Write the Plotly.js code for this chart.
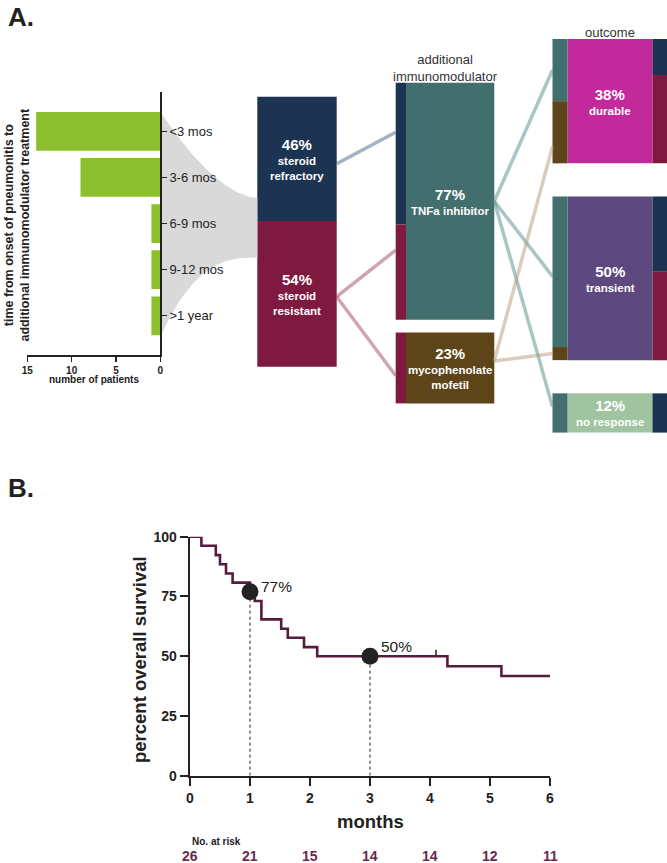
<!DOCTYPE html>
<html><head><meta charset="utf-8">
<script src="https://cdn.plot.ly/plotly-3.0.1.min.js"></script>
<style>html,body{margin:0;padding:0;background:#fff}</style>
</head><body><div id="chart" style="width:667px;height:863px"></div>
<script>
// ---------------- data ----------------
const timeCategories = ['<3 mos', '3-6 mos', '6-9 mos', '9-12 mos', '>1 year'];
const timeCounts = [14, 9, 1, 1, 1];
const countTicks = [15, 10, 5, 0];

const steroidPct = [46, 54];
const steroidNames = ['steroid<br>refractory', 'steroid<br>resistant'];

const immunoPct = [77, 23];
const immunoNames = ['TNFa inhibitor', 'mycophenolate<br>mofetil'];
const immunoFromRefractory = [46, 0];
const immunoFromResistant = [31, 23];

const outcomePct = [38, 50, 12];
const outcomeNames = ['durable', 'transient', 'no response'];
const outcomeFromTNF = [19, 46, 12];
const outcomeFromMMF = [19, 4, 0];
const outcomeFromRefractory = [11, 23, 12];
const outcomeFromResistant = [27, 27, 0];

const kmMonths = [0, 0.19, 0.43, 0.5, 0.6, 0.71, 1.0, 1.08, 1.19, 1.52, 1.63, 1.9, 2.12, 4.29, 5.19, 6];
const kmSurvival = [100, 96.2, 92.3, 88.5, 84.6, 80.8, 76.9, 73.1, 65.4, 61.5, 57.7, 53.8, 50, 45.8, 41.7, 41.7];
const censorMonths = [4.1];
const censorSurvival = [50];
const markMonths = [1, 3];
const markSurvival = [77, 50];
const markLabels = ['77%', '50%'];
const riskMonths = [0, 1, 2, 3, 4, 5, 6];
const riskCounts = [26, 21, 15, 14, 14, 12, 11];
const monthTicks = [0, 1, 2, 3, 4, 5, 6];
const survivalTicks = [0, 25, 50, 75, 100];

// ---------------- layout constants ----------------
const W = 667, H = 863;
const FONT = 'Arial, "Liberation Sans", sans-serif';
const INK = '#222';
const C = {
  navy: '#1c3352', maroon: '#7e1a40', teal: '#436e6e', brown: '#5d4519',
  magenta: '#c22a9b', purple: '#5e4880', green: '#a0c4a0', lime: '#8dc02f',
  km: '#561b3e', risk: '#6a2a4e', funnel: '#d9d9d9',
  lnRef: 'rgba(77,101,133,0.5)', lnRes: 'rgba(167,69,105,0.5)',
  lnTNF: 'rgba(83,141,139,0.5)', lnMMF: 'rgba(181,155,127,0.5)'
};
const G = {
  steroid: {x0: 257.3, x1: 336.7, top: 96.7, scale: 2.70, gap: 0},
  immuno: {x0: 395.7, x1: 494.3, top: 82.7, scale: 3.08, gap: 12.7, lw: 10.3},
  outcome: {x0: 552.5, x1: 667, top: 39, scale: 3.272, gap: 33.2, lw: 15, rw: 14.5}
};
const FUN = {x0: 160.3, x1: 257.3, topA: 111.7, topB: 198, botA: 336.7, botB: 257.5, pTop: 1.7, pBot: 2.7};
const py = v => (H - v) / H;   // pixel row -> paper fraction
const px = v => v / W;

function stack(vals, g) {
  let cum = 0;
  return vals.map((v, i) => { const y0 = g.top + cum * g.scale + i * g.gap; cum += v; return {y0: y0, y1: y0 + v * g.scale}; });
}
function sub(seg, vals, scale) {
  let y = seg.y0;
  return vals.map(v => { const s = {y0: y, y1: y + v * scale}; y += v * scale; return s; });
}
const at = (s, f) => s.y0 + (s.y1 - s.y0) * f;

const traces = [];
const annotations = [];
function note(o) { annotations.push(Object.assign({showarrow: false, xanchor: 'center', yanchor: 'middle'}, o)); }

// funnel (canvas subplot x2/y2)
const fx = [], fy = [];
for (let k = 0; k <= 40; k++) { const t = k / 40; fx.push(FUN.x0 + t * (FUN.x1 - FUN.x0)); fy.push(FUN.topB - (FUN.topB - FUN.topA) * Math.pow(1 - t, FUN.pTop)); }
for (let k = 40; k >= 0; k--) { const t = k / 40; fx.push(FUN.x0 + t * (FUN.x1 - FUN.x0)); fy.push(FUN.botB + (FUN.botA - FUN.botB) * Math.pow(1 - t, FUN.pBot)); }
traces.push({type: 'scatter', mode: 'lines', x: fx, y: fy, fill: 'toself', fillcolor: C.funnel,
  line: {width: 0, color: C.funnel}, xaxis: 'x2', yaxis: 'y2', hoverinfo: 'skip'});

function rect(x0, x1, s, color) {
  if (s.y1 - s.y0 <= 0) return;
  traces.push({type: 'bar', x: [(x0 + x1) / 2], width: [x1 - x0], base: [s.y0], y: [s.y1 - s.y0],
    marker: {color: color, line: {width: 0}}, xaxis: 'x2', yaxis: 'y2', hoverinfo: 'skip'});
}
function label(cx, s, pct, name) {
  note({xref: 'x2', yref: 'y2', x: cx, y: (s.y0 + s.y1) / 2, align: 'center',
    text: '<span style="font-size:15px">' + pct + '%</span><br>' + name,
    font: {family: FONT, size: 11.5, color: '#fff', weight: 'bold'}});
}

// column 1
const steroidSegs = stack(steroidPct, G.steroid);
const steroidColors = [C.navy, C.maroon];
steroidSegs.forEach((s, i) => { rect(G.steroid.x0, G.steroid.x1, s, steroidColors[i]); label((G.steroid.x0 + G.steroid.x1) / 2, s, steroidPct[i], steroidNames[i]); });

// column 2
const immunoSegs = stack(immunoPct, G.immuno);
const immunoColors = [C.teal, C.brown];
const immunoLeft = immunoSegs.map((s, i) => sub(s, [immunoFromRefractory[i], immunoFromResistant[i]], G.immuno.scale));
immunoSegs.forEach((s, i) => {
  rect(G.immuno.x0 + G.immuno.lw, G.immuno.x1, s, immunoColors[i]);
  rect(G.immuno.x0, G.immuno.x0 + G.immuno.lw, immunoLeft[i][0], C.navy);
  rect(G.immuno.x0, G.immuno.x0 + G.immuno.lw, immunoLeft[i][1], C.maroon);
  label((G.immuno.x0 + G.immuno.lw + G.immuno.x1) / 2, s, immunoPct[i], immunoNames[i]);
});

// column 3
const outcomeSegs = stack(outcomePct, G.outcome);
const outcomeColors = [C.magenta, C.purple, C.green];
const outcomeLeft = outcomeSegs.map((s, i) => sub(s, [outcomeFromTNF[i], outcomeFromMMF[i]], G.outcome.scale));
const outcomeRight = outcomeSegs.map((s, i) => sub(s, [outcomeFromRefractory[i], outcomeFromResistant[i]], G.outcome.scale));
const oL = G.outcome.x0 + G.outcome.lw, oR = G.outcome.x1 - G.outcome.rw;
outcomeSegs.forEach((s, i) => {
  rect(oL, oR, s, outcomeColors[i]);
  rect(G.outcome.x0, oL, outcomeLeft[i][0], C.teal);
  rect(G.outcome.x0, oL, outcomeLeft[i][1], C.brown);
  rect(oR, G.outcome.x1, outcomeRight[i][0], C.navy);
  rect(oR, G.outcome.x1, outcomeRight[i][1], C.maroon);
  label((oL + oR) / 2, s, outcomePct[i], outcomeNames[i]);
});

// links
const links = [
  [G.steroid.x1, at(steroidSegs[0], 0.54), G.immuno.x0, at(immunoLeft[0][0], 0.35), C.lnRef],
  [G.steroid.x1, at(steroidSegs[1], 0.52), G.immuno.x0, at(immunoLeft[0][1], 0.27), C.lnRes],
  [G.steroid.x1, at(steroidSegs[1], 0.52), G.immuno.x0, at(immunoLeft[1][1], 0.61), C.lnRes],
  [G.immuno.x1, at(immunoSegs[0], 0.5), G.outcome.x0, at(outcomeLeft[0][0], 0.5), C.lnTNF],
  [G.immuno.x1, at(immunoSegs[0], 0.5), G.outcome.x0, at(outcomeLeft[1][0], 0.53), C.lnTNF],
  [G.immuno.x1, at(immunoSegs[0], 0.5), G.outcome.x0, at(outcomeLeft[2][0], 0.34), C.lnTNF],
  [G.immuno.x1, at(immunoSegs[1], 0.4), G.outcome.x0, at(outcomeLeft[0][1], 0.73), C.lnMMF],
  [G.immuno.x1, at(immunoSegs[1], 0.4), G.outcome.x0, at(outcomeLeft[1][1], 0.5), C.lnMMF]
];
links.forEach(l => traces.push({type: 'scatter', mode: 'lines', x: [l[0], l[2]], y: [l[1], l[3]],
  line: {color: l[4], width: 3.5}, xaxis: 'x2', yaxis: 'y2', hoverinfo: 'skip'}));

// headers
note({xref: 'x2', yref: 'y2', x: (G.immuno.x0 + G.immuno.x1) / 2, y: 68,
  text: 'additional<br>immunomodulator', font: {family: FONT, size: 13, color: '#333'}});
note({xref: 'x2', yref: 'y2', x: (oL + oR) / 2, y: 32,
  text: 'outcome', font: {family: FONT, size: 13, color: '#333'}});

// left bar chart (subplot x4/y4, drawn above the canvas)
traces.push({type: 'bar', orientation: 'h', y: timeCategories, x: timeCounts, width: 0.84,
  marker: {color: C.lime, line: {width: 0}}, xaxis: 'x4', yaxis: 'y4', hoverinfo: 'skip'});
note({xref: 'paper', yref: 'paper', x: px(16.5), y: py(225), textangle: -90,
  text: 'time from onset of pneumonitis to<br>additional immunomodulator treatment',
  font: {family: FONT, size: 12.5, color: INK, weight: 'bold'}});
note({xref: 'paper', yref: 'paper', x: px(93.5), y: py(379),
  text: 'number of patients', font: {family: FONT, size: 10, color: INK, weight: 'bold'}});

// panel labels
note({xref: 'paper', yref: 'paper', x: px(6), y: py(17), xanchor: 'left',
  text: 'A.', font: {family: FONT, size: 26, color: INK, weight: 'bold'}});
note({xref: 'paper', yref: 'paper', x: px(6), y: py(488), xanchor: 'left',
  text: 'B.', font: {family: FONT, size: 26, color: INK, weight: 'bold'}});

// ---------------- panel B ----------------
markMonths.forEach((m, i) => traces.push({type: 'scatter', mode: 'lines', x: [m, m], y: [0, markSurvival[i]],
  line: {color: INK, width: 1, dash: 'dot'}, xaxis: 'x3', yaxis: 'y3', hoverinfo: 'skip'}));
traces.push({type: 'scatter', mode: 'lines', x: kmMonths, y: kmSurvival, line: {color: C.km, width: 2.6, shape: 'hv'},
  xaxis: 'x3', yaxis: 'y3', cliponaxis: false, hoverinfo: 'skip'});
traces.push({type: 'scatter', mode: 'markers', x: censorMonths, y: censorSurvival.map(v => v + 1.2),
  marker: {symbol: 'line-ns', size: 5, line: {width: 1.5, color: INK}}, xaxis: 'x3', yaxis: 'y3', hoverinfo: 'skip'});
traces.push({type: 'scatter', mode: 'markers', x: markMonths, y: markSurvival,
  marker: {size: 17, color: INK}, xaxis: 'x3', yaxis: 'y3', cliponaxis: false, hoverinfo: 'skip'});
const markOffsets = [[26, 5], [26, 10]];
markLabels.forEach((t, i) => note({xref: 'x3', yref: 'y3', x: markMonths[i], y: markSurvival[i],
  xshift: markOffsets[i][0], yshift: markOffsets[i][1], text: t,
  font: {family: FONT, size: 15.5, color: INK}}));

note({xref: 'paper', yref: 'paper', x: px(139), y: py(660), textangle: -90,
  text: 'percent overall survival', font: {family: FONT, size: 18.5, color: INK, weight: 'bold'}});
note({xref: 'x3', yref: 'paper', x: 3, y: py(821),
  text: 'months', font: {family: FONT, size: 18.5, color: INK, weight: 'bold'}});
note({xref: 'x3', yref: 'paper', x: 0, y: py(841.5), xanchor: 'left',
  text: 'No. at risk', font: {family: FONT, size: 10, color: INK, weight: 'bold'}});
riskCounts.forEach((n, i) => note({xref: 'x3', yref: 'paper', x: riskMonths[i], y: py(855.5),
  text: String(n), font: {family: FONT, size: 14, color: C.risk, weight: 'bold'}}));

const axB = {showgrid: false, zeroline: false, showline: true, linewidth: 2.4, linecolor: INK,
  ticks: 'outside', ticklen: 8, tickwidth: 2, tickcolor: INK,
  tickfont: {family: FONT, size: 14, color: INK, weight: 'bold'}, fixedrange: true};

const layout = {
  width: W, height: H, margin: {l: 0, r: 0, t: 0, b: 0},
  paper_bgcolor: '#fff', plot_bgcolor: 'rgba(0,0,0,0)', showlegend: false, barmode: 'overlay',
  font: {family: FONT, color: INK},
  xaxis2: {domain: [0, 1], range: [0, W], anchor: 'y2', visible: false, fixedrange: true},
  yaxis2: {domain: [0, 1], range: [H, 0], anchor: 'x2', visible: false, fixedrange: true},
  xaxis3: Object.assign({domain: [px(190), px(550)], range: [0, 6], anchor: 'y3', tickvals: monthTicks}, axB),
  yaxis3: Object.assign({domain: [py(775.7), py(536.7)], range: [0, 100], anchor: 'x3', tickvals: survivalTicks}, axB),
  xaxis4: {domain: [px(27.3), px(160.3)], range: [15, 0], anchor: 'y4', tickvals: countTicks,
    showgrid: false, zeroline: false, showline: true, linewidth: 1.5, linecolor: INK,
    ticks: 'outside', ticklen: 5, tickwidth: 1.2, tickcolor: INK,
    tickfont: {family: FONT, size: 10, color: INK, weight: 'bold'}, fixedrange: true},
  yaxis4: {domain: [py(355), py(91.7)], type: 'category', categoryorder: 'array',
    categoryarray: timeCategories, range: [4.85, -0.86], anchor: 'x4', side: 'right',
    showgrid: false, zeroline: false, showline: true, linewidth: 1.5, linecolor: INK,
    ticks: 'outside', ticklen: 5, tickwidth: 1.2, tickcolor: INK,
    tickfont: {family: FONT, size: 13, color: INK}, fixedrange: true},
  annotations: annotations
};

Plotly.newPlot('chart', traces, layout, {staticPlot: true, displayModeBar: false});
</script></body></html>
